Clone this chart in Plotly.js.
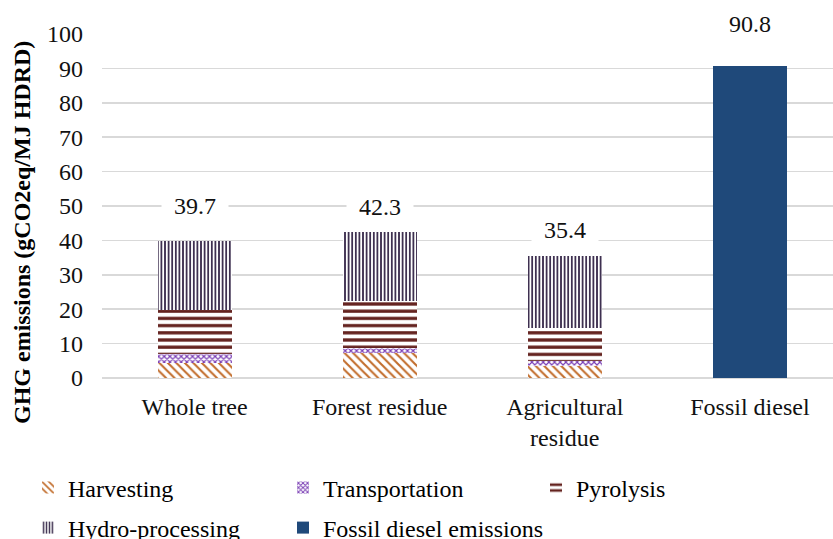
<!DOCTYPE html>
<html>
<head>
<meta charset="utf-8">
<script src="https://cdn.plot.ly/plotly-3.0.1.min.js"></script>
<style>html,body{margin:0;padding:0;background:#fff;}#chart{width:833px;height:539px;}</style>
</head>
<body>
<div id="chart"></div>
<script>
// ---- data ----
const categories = ["Whole tree", "Forest residue", "Agricultural<br>residue", "Fossil diesel"];
const harvesting = [4.4, 7.2, 3.5, null];
const transportation = [2.6, 1.6, 1.3, null];
const pyrolysis = [12.8, 13.6, 9.7, null];
const hydroprocessing = [19.9, 19.9, 20.9, null];
const fossilDiesel = [null, null, null, 90.8];
const totals = [39.7, 42.3, 35.4, 90.8];
const totalLabels = ["39.7", "42.3", "35.4", "90.8"];
const yTickVals = [0, 10, 20, 30, 40, 50, 60, 70, 80, 90, 100];

// ---- style ----
const serif = "Liberation Serif, Times New Roman, serif";
const labelShift = [35, 25, 26, 42];

function patBar(name, y, color, shape, size, solidity, legend) {
  return {
    type: "bar", name: name, x: categories, y: y, legend: legend,
    marker: {
      color: color,
      line: {width: 0},
      pattern: {shape: shape, fgcolor: color, bgcolor: "#ffffff", size: size, solidity: solidity, fillmode: "replace"}
    },
    hoverinfo: "skip"
  };
}

const traces = [
  patBar("Harvesting", harvesting, "#c26d2c", "\\", 6, 0.35, "legend"),
  patBar("Transportation", transportation, "#7b3fb5", "x", 4, 0.5, "legend"),
  patBar("Pyrolysis", pyrolysis, "#64231f", "-", 7.2, 0.45, "legend3"),
  patBar("Hydro-processing", hydroprocessing, "#3e3050", "|", 3.6, 0.5, "legend2"),
  {type: "bar", name: "Fossil diesel emissions", x: categories, y: fossilDiesel, legend: "legend2",
   legendwidth: 260,
   marker: {color: "#1f497a", line: {width: 0}}, hoverinfo: "skip"}
];

const annotations = categories.map((c, i) => ({
  x: c, y: totals[i], xref: "x", yref: "y", text: totalLabels[i],
  showarrow: false, yanchor: "middle", yshift: labelShift[i],
  bgcolor: "#ffffff", borderpad: 4, width: 58,
  font: {family: serif, size: 24, color: "#111"}
}));
annotations.push({
  text: "<b>GHG emissions (gCO2eq/MJ HDRD)</b>", textangle: -90,
  xref: "paper", yref: "paper", x: (22 - 102) / 731, y: (378 - 233) / 344,
  xanchor: "center", yanchor: "middle", showarrow: false,
  font: {family: serif, size: 24, color: "#000"}
});

const legendCommon = {
  orientation: "h", xref: "container", yref: "container",
  xanchor: "left", yanchor: "middle", entrywidth: 210, entrywidthmode: "pixels",
  font: {family: serif, size: 24, color: "#000"}, bgcolor: "rgba(0,0,0,0)", traceorder: "normal"
};

const layout = {
  width: 833, height: 539,
  margin: {l: 102, r: 0, t: 34, b: 161, autoexpand: false},
  paper_bgcolor: "#fff", plot_bgcolor: "#fff",
  barmode: "stack", bargap: 0.6,
  showlegend: true,
  legend: Object.assign({}, legendCommon, {x: 28 / 833, y: 1 - 488 / 539}),
  legend3: Object.assign({}, legendCommon, {x: 536 / 833, y: 1 - 488 / 539}),
  legend2: Object.assign({}, legendCommon, {x: 28 / 833, y: 1 - 528 / 539}),
  xaxis: {
    range: [-0.5, 3.449], showgrid: false, zeroline: false, showline: false,
    ticks: "", ticklabelstandoff: 12, tickfont: {family: serif, size: 24, color: "#111"}, fixedrange: true
  },
  yaxis: {
    range: [0, 100], tickvals: yTickVals, showgrid: true, gridcolor: "#d9d9d9", gridwidth: 1.5,
    zeroline: true, zerolinecolor: "#d9d9d9", zerolinewidth: 1.5, showline: false,
    ticks: "", ticklabelstandoff: 18, tickfont: {family: serif, size: 24, color: "#111"}, fixedrange: true
  },
  annotations: annotations
};

Plotly.newPlot("chart", traces, layout, {displayModeBar: false, staticPlot: true});
</script>
</body>
</html>
